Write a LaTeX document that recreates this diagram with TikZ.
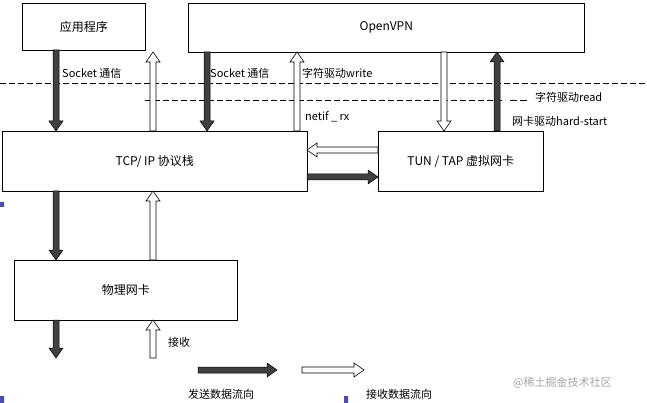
\documentclass[tikz,border=0pt]{standalone}
\usepackage{fontspec}
\setmainfont{Noto Sans CJK SC}
\begin{document}
\begin{tikzpicture}[x=1pt,y=-1pt,font=\fontsize{11}{13}\selectfont,
  bx/.style={draw,line width=0.6pt,fill=white,font=\fontsize{12}{14}\selectfont},
  snd/.style={draw=black,fill=black!75,line width=0.5pt},
  rcv/.style={draw=black,fill=white,line width=0.6pt},
  lbl/.style={inner sep=0pt,anchor=west}]
\newcommand\barr[5]{\draw[#5,shift={(#1,#2)},rotate=#4] (0,-3)--(#3-10,-3)--(#3-10,-7)--(#3,0)--(#3-10,7)--(#3-10,3)--(0,3)--cycle;}
\useasboundingbox (0,0) rectangle (647,403);
\fill[white] (0,0) rectangle (647,403);
% dashed lines
\draw[dashed,dash pattern=on 6pt off 3pt] (0,83) -- (647,83);
\draw[dashed,dash pattern=on 6pt off 3pt] (145,100) -- (505,100);
\draw (510,100)--(517,100) (520,100)--(527,100);
% boxes
\node[bx,minimum width=123,minimum height=47,anchor=north west] (app) at (22,3) {应用程序};
\node[bx,minimum width=396,minimum height=49,anchor=north west] (vpn) at (188,3) {OpenVPN};
\node[bx,minimum width=305,minimum height=60,anchor=north west] (tcp) at (2,131) {TCP/ IP 协议栈};
\node[bx,minimum width=165,minimum height=60,anchor=north west] (tun) at (378,131) {TUN / TAP 虚拟网卡};
\node[bx,minimum width=223,minimum height=60,anchor=north west] (phy) at (14,260) {物理网卡};
% arrows
\barr{56}{50}{81}{-90}{snd}
\barr{153}{131}{79}{90}{rcv}
\barr{207}{52}{79}{-90}{snd}
\barr{297}{131}{79}{90}{rcv}
\barr{444}{52}{79}{-90}{rcv}
\barr{497}{131}{79}{90}{snd}
\barr{378}{150}{71}{180}{rcv}
\barr{307}{177}{71}{0}{snd}
\barr{56}{191}{69}{-90}{snd}
\barr{153}{260}{69}{90}{rcv}
\barr{56}{320}{38}{-90}{snd}
\barr{153}{358}{38}{90}{rcv}
\barr{198}{370}{79}{0}{snd}
\barr{302}{370}{62}{0}{rcv}
% labels
\node[lbl] (t1) at (62,73) {Socket 通信};
\node[lbl] (t2) at (210,73) {Socket 通信};
\node[lbl] (t3) at (302,73) {字符驱动write};
\node[lbl] (t4) at (535,97) {字符驱动read};
\node[lbl] (t5) at (305,117) {netif \_ rx};
\node[lbl] (t6) at (512,121) {网卡驱动hard-start};
\node[lbl] (t7) at (168,342) {接收};
\node[lbl] (t8) at (188,394) {发送数据流向};
\node[lbl] (t9) at (366,394) {接收数据流向};
\node[lbl,text=black!35] (wm) at (513,383) {@稀土掘金技术社区};
\fill[blue!40!gray] (0,202) rectangle (4,207) (0,396) rectangle (4,403) (344,396) rectangle (348,403);
\end{tikzpicture}
\end{document}
